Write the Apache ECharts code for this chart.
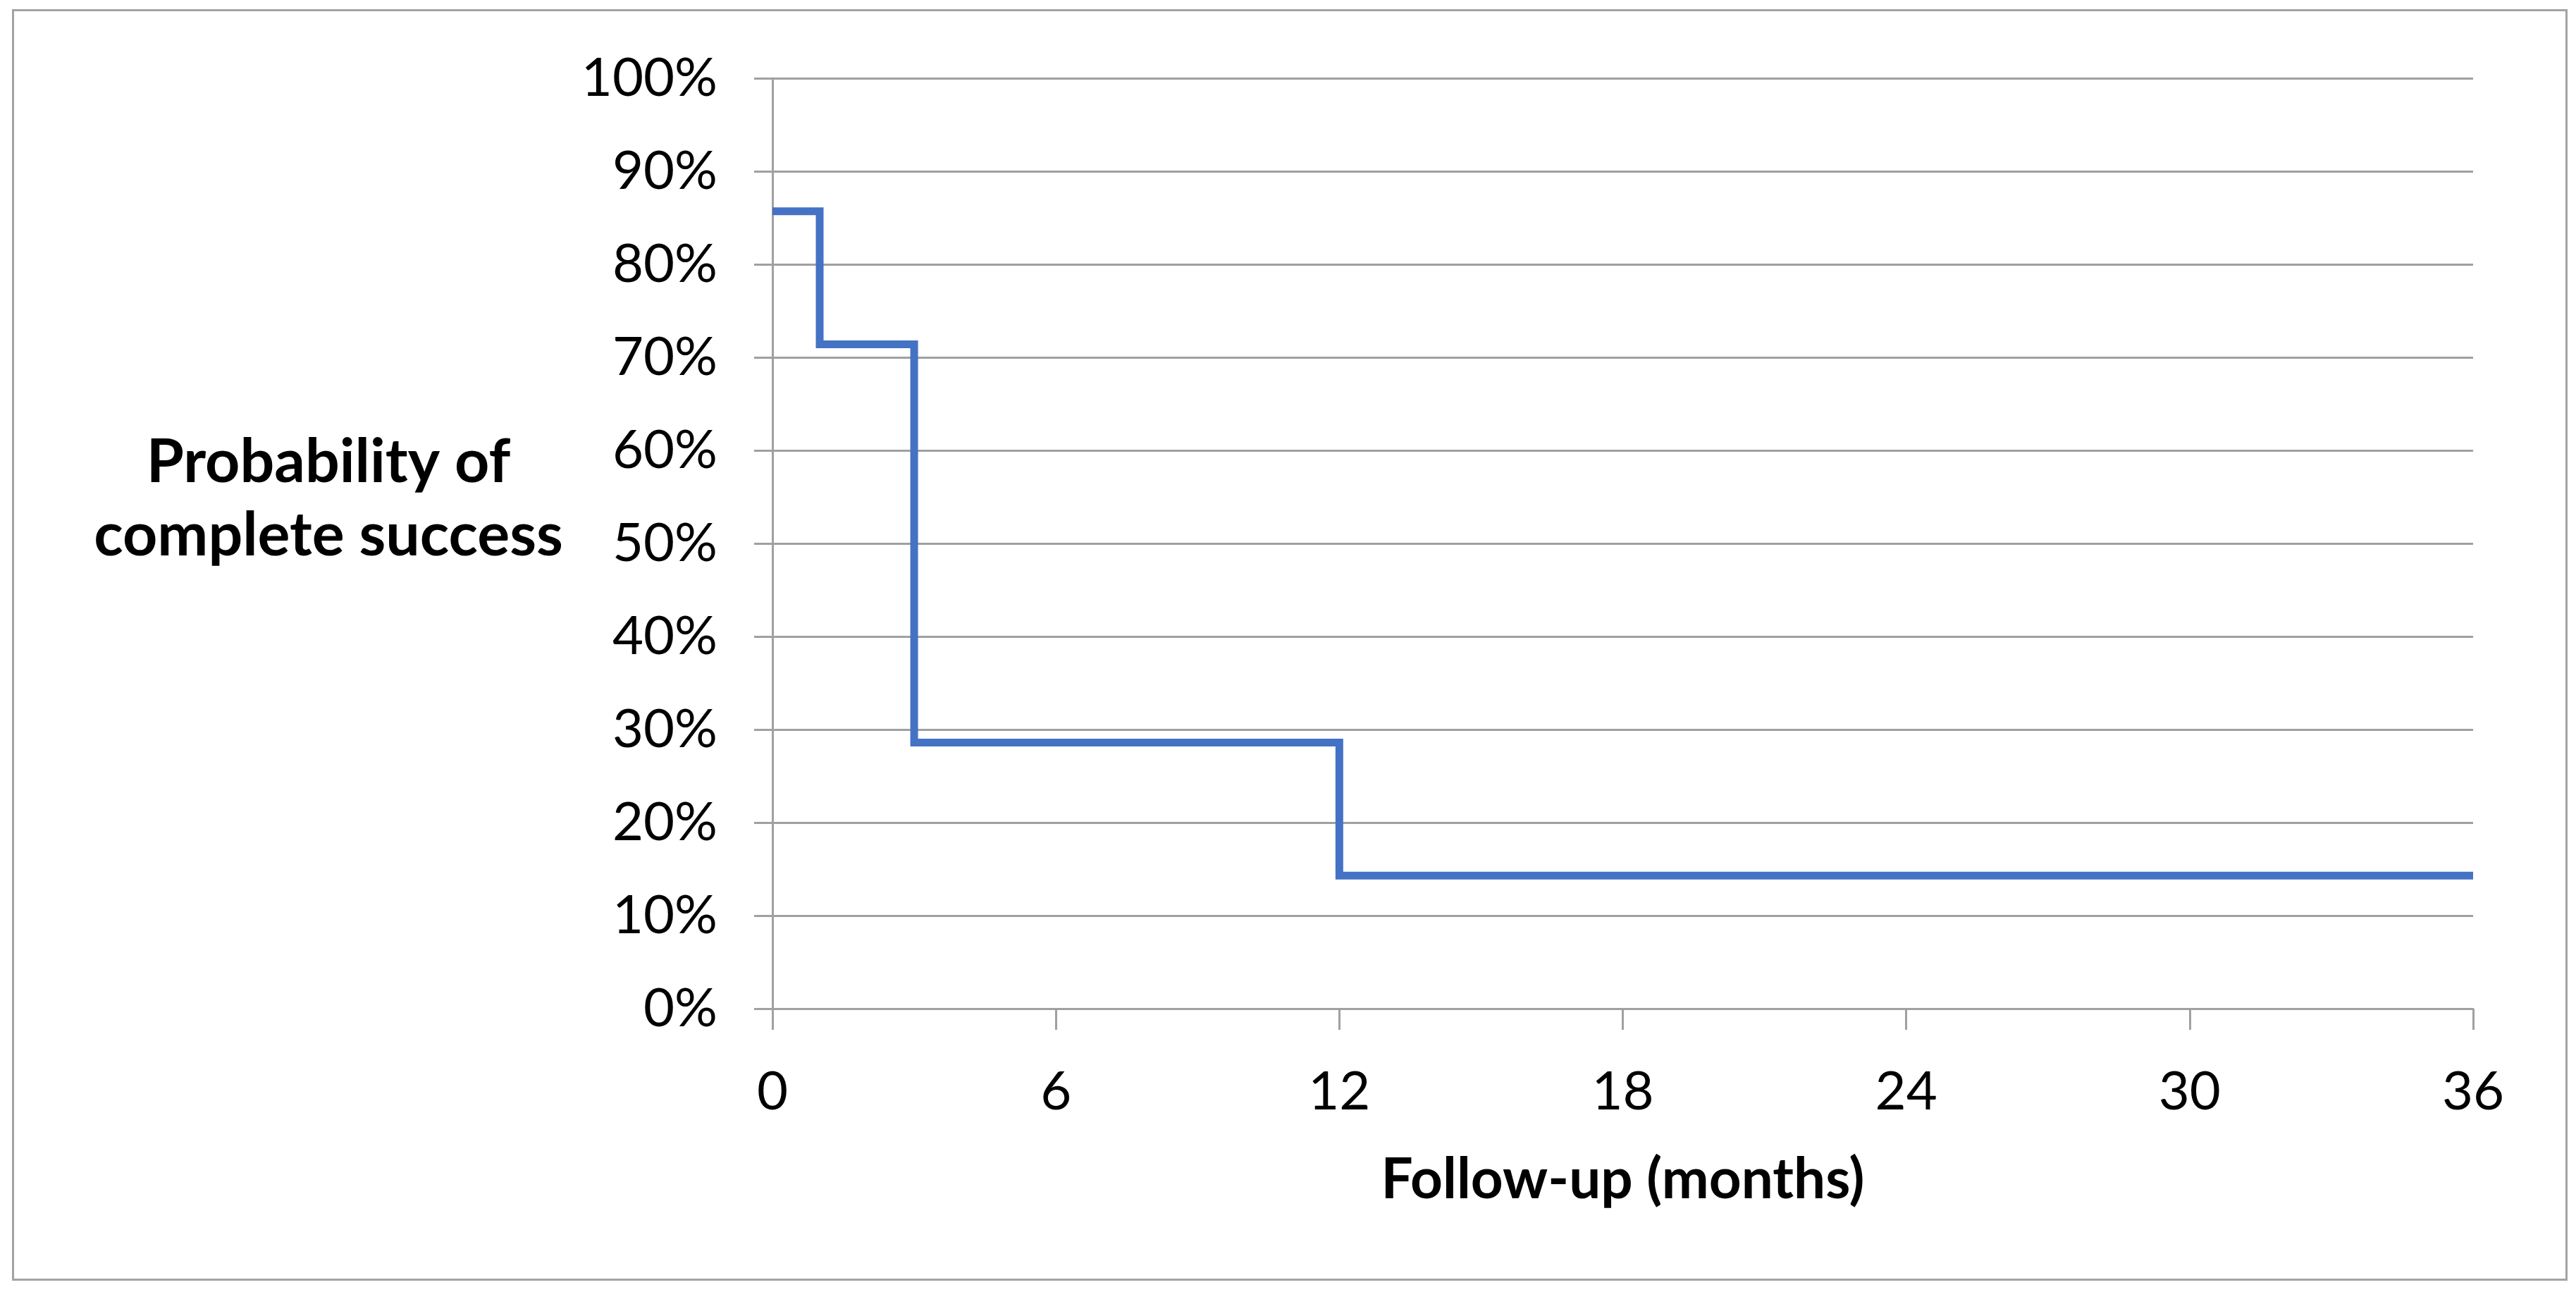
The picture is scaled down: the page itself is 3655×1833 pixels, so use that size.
<!DOCTYPE html>
<html>
<head>
<meta charset="utf-8">
<script src="https://cdn.jsdelivr.net/npm/echarts@6/dist/echarts.min.js"></script>
<style>
    html, body { margin: 0; padding: 0; background: #fff; }
    #chart_km { position: absolute; left: 0; top: 0; width: 3655px; height: 1833px; }
    #frame { position: absolute; left: 17px; top: 13px; width: 3620px; height: 1798px; border: 3px solid #a3a3a3; pointer-events: none; }
</style>
</head>
<body>
<div id="chart_km"></div>
<div id="frame"></div>
<script>
// thời gian theo dõi (tháng) và xác suất thành công (%)
var months = [0, 1, 3, 12, 36];
var success = [85.7, 71.4, 28.6, 14.3, 14.3];
var x_ticks = [0, 6, 12, 18, 24, 30, 36];
var y_ticks = [0, 10, 20, 30, 40, 50, 60, 70, 80, 90, 100];

var chart_km = {
    echarts: echarts.init(document.getElementById('chart_km')),
    drawEcharts: function () {
        let data = months.map(function (m, i) { return [m, success[i]]; });
        let font = 'Lato, "Open Sans", sans-serif';

        let option = {
            animation: false,
            // tiêu đề trục Y đặt bằng title để canh vị trí dễ hơn
            title: {
                text: 'Probability of\ncomplete success',
                left: 466,
                top: 604,
                textAlign: 'center',
                padding: 0,
                textStyle: {
                    fontFamily: font,
                    fontWeight: 'bold',
                    fontSize: 86,
                    lineHeight: 104,
                    color: '#000'
                }
            },
            grid: {
                left: 1096,
                right: 146,
                top: 111,
                bottom: 402
            },
            xAxis: {
                type: 'value',
                min: x_ticks[0],
                max: x_ticks[x_ticks.length - 1],
                interval: 6,
                name: 'Follow-up (months)',
                nameLocation: 'middle',
                nameGap: 243,
                nameTextStyle: {
                    fontFamily: font,
                    fontWeight: 'bold',
                    fontSize: 80,
                    color: '#000',
                    verticalAlign: 'middle'
                },
                axisLine: { show: true, lineStyle: { color: '#a0a0a0', width: 3 } },
                axisTick: { show: true, length: 30, lineStyle: { color: '#a0a0a0', width: 3 } },
                axisLabel: { fontFamily: font, fontSize: 76, color: '#000', margin: 80 },
                splitLine: { show: false }
            },
            yAxis: {
                type: 'value',
                min: y_ticks[0],
                max: y_ticks[y_ticks.length - 1],
                interval: 10,
                axisLine: { show: true, lineStyle: { color: '#a0a0a0', width: 3 } },
                axisTick: { show: true, length: 26, lineStyle: { color: '#a0a0a0', width: 3 } },
                axisLabel: {
                    fontFamily: font,
                    fontSize: 76,
                    color: '#000',
                    margin: 78,
                    formatter: '{value}%'
                },
                splitLine: { show: true, lineStyle: { color: '#a0a0a0', width: 3 } }
            },
            series: [
                {
                    name: 'Complete success',
                    type: 'line',
                    step: 'end',
                    data: data,
                    showSymbol: false,
                    color: '#4472c4',
                    lineStyle: { width: 11, color: '#4472c4', cap: 'butt', join: 'miter' }
                }
            ]
        };

        this.echarts.setOption(option);
    }
}

chart_km.drawEcharts()
</script>
</body>
</html>
